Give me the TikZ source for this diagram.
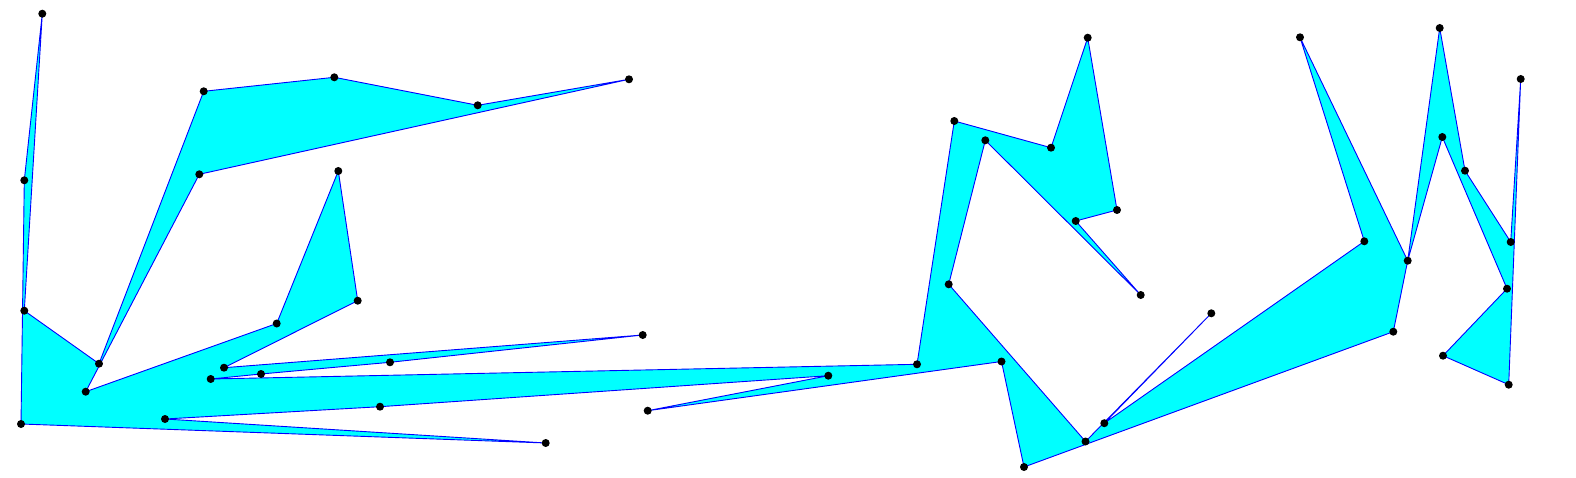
\documentclass[tikz,border=0pt]{standalone}
\definecolor{aqua}{RGB}{0,255,255}
\definecolor{edgeblue}{RGB}{0,0,255}
\begin{document}
\begin{tikzpicture}[x=1pt,y=-1pt,
  poly/.style={fill=aqua,draw=edgeblue,line width=0.9pt,line join=round},
  vdot/.style={fill=black}]
\useasboundingbox (0,0) rectangle (1576,478);
\coordinate (v1) at (21,424);
\coordinate (v2) at (24.3,180.3);
\coordinate (v3) at (42.3,13.7);
\coordinate (v4) at (24.3,310.7);
\coordinate (v5) at (99,363.7);
\coordinate (v6) at (203.7,91.3);
\coordinate (v7) at (334.3,77.3);
\coordinate (v8) at (477.7,105.3);
\coordinate (v9) at (629,79.3);
\coordinate (v10) at (199.3,174.3);
\coordinate (v11) at (85.7,391.7);
\coordinate (v12) at (276.7,323.5);
\coordinate (v13) at (338.3,171);
\coordinate (v14) at (357.7,300.7);
\coordinate (v15) at (224,367.7);
\coordinate (v16) at (642.7,335);
\coordinate (v17) at (390,362.3);
\coordinate (v18) at (261,374);
\coordinate (v19) at (210.7,379);
\coordinate (v20) at (917,364.3);
\coordinate (v21) at (954.3,121);
\coordinate (v22) at (1051,147.7);
\coordinate (v23) at (1087.7,37.7);
\coordinate (v24) at (1117,210);
\coordinate (v25) at (1075.7,221);
\coordinate (v26) at (1140.7,295);
\coordinate (v27) at (985.3,140.3);
\coordinate (v28) at (948.7,284.3);
\coordinate (v29) at (1085.5,441.5);
\coordinate (v30) at (1211.3,313.3);
\coordinate (v31) at (1104.3,423.2);
\coordinate (v32) at (1364.3,241.3);
\coordinate (v33) at (1300,37.3);
\coordinate (v34) at (1407.7,260.7);
\coordinate (v35) at (1439.7,28);
\coordinate (v36) at (1465,170.7);
\coordinate (v37) at (1510.7,242);
\coordinate (v38) at (1520.7,79);
\coordinate (v39) at (1508.7,384.7);
\coordinate (v40) at (1443,355.7);
\coordinate (v41) at (1507,288.7);
\coordinate (v42) at (1442.3,137);
\coordinate (v44) at (1393.3,331.7);
\coordinate (v45) at (1024,467);
\coordinate (v46) at (1001.5,361.5);
\coordinate (v47) at (647.7,410.7);
\coordinate (v48) at (828.3,375.7);
\coordinate (v49) at (380,406.7);
\coordinate (v50) at (165,419);
\coordinate (v51) at (545.7,443);
\path[poly] (v1) -- (v2) -- (v3) -- (v4) -- (v5) -- (v6) -- (v7) -- (v8) -- (v9)
  -- (v10) -- (v11) -- (v12) -- (v13) -- (v14) -- (v15) -- (v16) -- (v17) -- (v18)
  -- (v19) -- (v20) -- (v21) -- (v22) -- (v23) -- (v24) -- (v25) -- (v26) -- (v27)
  -- (v28) -- (v29) -- (v30) -- (v31) -- (v32) -- (v33) -- (v34) -- (v35) -- (v36)
  -- (v37) -- (v38) -- (v39) -- (v40) -- (v41) -- (v42) -- (v34) -- (v44)
  -- (v45) -- (v46) -- (v47) -- (v48) -- (v49) -- (v50) -- (v51) -- cycle;
\foreach \i in {1,...,42,44,45,...,51}
  \fill[vdot] (v\i) circle (4);
\end{tikzpicture}
\end{document}
